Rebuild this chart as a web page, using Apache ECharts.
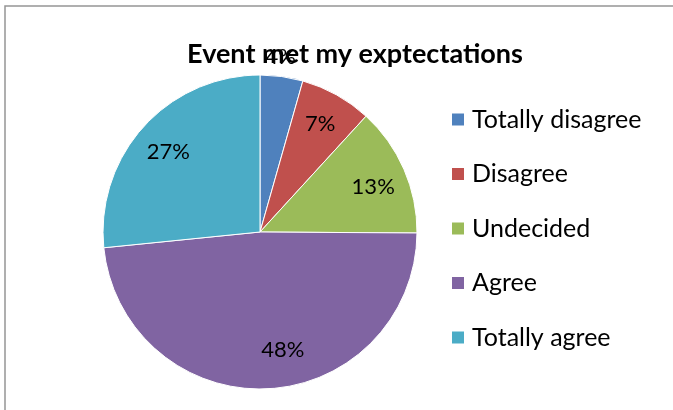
<!DOCTYPE html>
<html>
<head>
<meta charset="utf-8">
<script src="https://cdn.jsdelivr.net/npm/echarts@6/dist/echarts.min.js"></script>
<style>
  html, body { margin: 0; padding: 0; background: #fff; }
  #chart { width: 673px; height: 410px; }
</style>
</head>
<body>
<div id="chart"></div>
<script>
const titleText = 'Event met my exptectations';
const categories = ['Totally disagree', 'Disagree', 'Undecided', 'Agree', 'Totally agree'];
const percentValues = [4.4, 7.4, 13.3, 48.3, 26.6];
const colors = ['#4F81BD', '#C0504D', '#9BBB59', '#8064A2', '#4BACC6'];

const FONT = 'Lato';
const CENTER = [260, 232];
const R = 157;

const pieData = categories.map((name, i) => ({
  name: name,
  value: percentValues[i],
  itemStyle: { color: colors[i] }
}));

const labelData = categories.map((name, i) => {
  const item = { name: name, value: percentValues[i] };
  if (i === 0) {
    item.label = { position: 'outside', offset: [-24, 0] };
    item.labelLine = { show: false, length: 20, length2: 0 };
  } else if (i === 3) {
    item.label = { offset: [17, -5] };
  } else if (i === 4) {
    item.label = { offset: [0, 3] };
  } else if (i === 2) {
    item.label = { offset: [0, 4] };
  }
  return item;
});

const chart = echarts.init(document.getElementById('chart'), null, { renderer: 'canvas' });
chart.setOption({
  animation: false,
  backgroundColor: '#ffffff',
  textStyle: { fontFamily: FONT },
  graphic: [{
    type: 'rect',
    shape: { x: 5, y: 6, width: 720, height: 500 },
    style: { fill: 'none', stroke: '#959595', lineWidth: 1.5 },
    silent: true,
    z: 0
  }],
  title: {
    text: titleText,
    left: 355,
    top: 41,
    padding: 0,
    textAlign: 'center',
    textStyle: { fontFamily: FONT, fontSize: 27, fontWeight: 'bold', color: '#000' }
  },
  legend: {
    orient: 'vertical',
    left: 450,
    top: 107,
    padding: 0,
    icon: 'rect',
    itemWidth: 14,
    itemHeight: 14,
    itemGap: 29.5,
    data: categories,
    textStyle: { fontFamily: FONT, fontSize: 25, lineHeight: 24, color: '#000', padding: [0, 0, 0, 2] }
  },
  series: [
    {
      type: 'pie',
      center: CENTER,
      radius: [0, R],
      startAngle: 90,
      clockwise: true,
      avoidLabelOverlap: false,
      silent: true,
      label: { show: false },
      labelLine: { show: false },
      itemStyle: { borderColor: '#ffffff', borderWidth: 1 },
      data: pieData
    },
    {
      type: 'pie',
      center: CENTER,
      radius: [84, R],
      startAngle: 90,
      clockwise: true,
      avoidLabelOverlap: false,
      silent: true,
      itemStyle: { color: 'rgba(0,0,0,0)', borderWidth: 0 },
      label: {
        show: true,
        position: 'inside',
        fontFamily: FONT,
        fontSize: 22,
        color: '#000',
        formatter: p => Math.round(p.value) + '%'
      },
      labelLine: { show: false },
      data: labelData
    }
  ]
});
</script>
</body>
</html>
